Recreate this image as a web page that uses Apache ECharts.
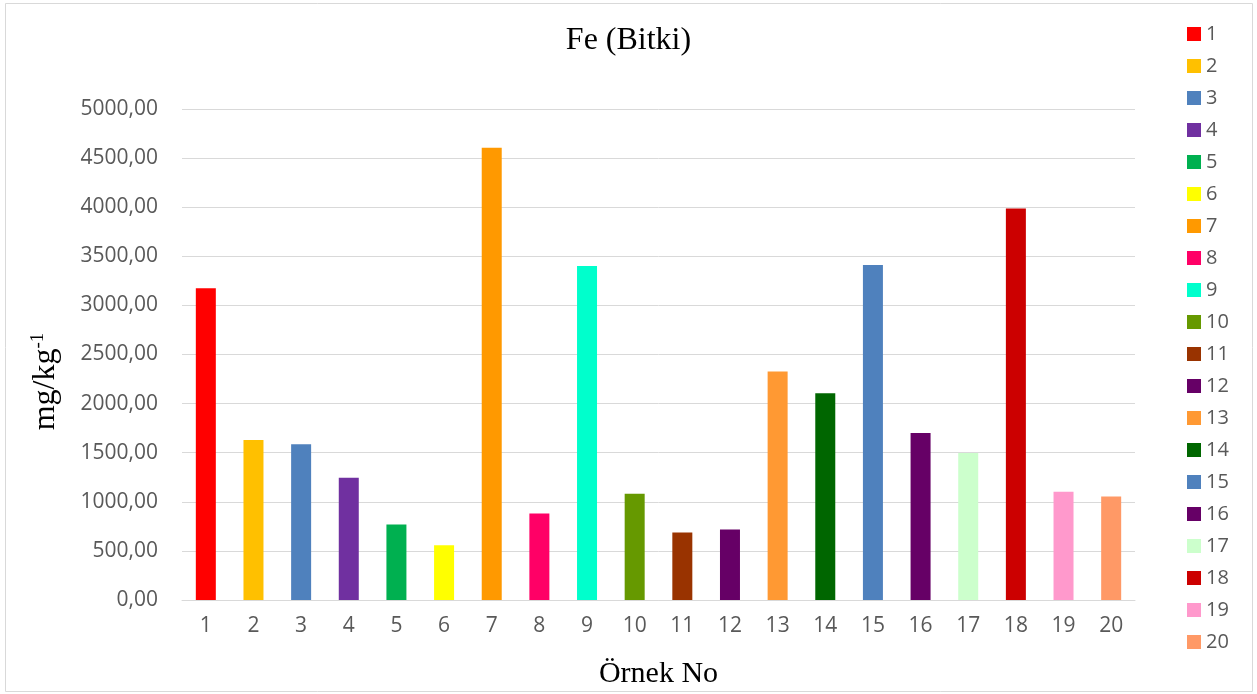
<!DOCTYPE html>
<html>
<head>
<meta charset="utf-8">
<script src="https://cdn.jsdelivr.net/npm/echarts@6/dist/echarts.min.js"></script>
<style>
html,body{margin:0;padding:0;background:#fff;}
#chart{width:1257px;height:694px;}
</style>
</head>
<body>
<div id="chart"></div>
<script>
const categories = ['1','2','3','4','5','6','7','8','9','10','11','12','13','14','15','16','17','18','19','20'];
const values = [3175, 1630, 1586, 1245, 769, 557, 4605, 880, 3401, 1083, 688, 719, 2328, 2105, 3411, 1700, 1498, 3988, 1103, 1053];
const colors = ['#FF0000','#FFC000','#4F81BD','#7030A0','#00B050','#FFFF00','#FF9900','#FF0066','#00FFCC','#669900','#993300','#660066','#FF9933','#006600','#4F81BD','#660066','#CCFFCC','#CC0000','#FF99CC','#FF9966'];
const yTicks = { min: 0, max: 5000, interval: 500 };

const series = categories.map((c, i) => ({
  name: c,
  type: 'bar',
  stack: 'total',
  barWidth: 20,
  itemStyle: { color: colors[i] },
  data: categories.map((_, j) => j === i ? values[i] : null)
}));

const chart = echarts.init(document.getElementById('chart'));
chart.setOption({
  animation: false,
  backgroundColor: '#fff',
  title: {
    text: 'Fe (Bitki)',
    left: 'center',
    top: 20,
    textStyle: { fontFamily: '"Liberation Serif", serif', fontSize: 32, fontWeight: 'normal', color: '#000' }
  },
  graphic: [{
    type: 'rect',
    shape: { x: 5.5, y: 3.5, width: 1247, height: 688 },
    style: { fill: 'none', stroke: '#d9d9d9', lineWidth: 1 },
    silent: true
  }],
  legend: {
    orient: 'vertical',
    left: 1182,
    top: 19,
    height: 665,
    itemWidth: 14,
    itemHeight: 14,
    itemGap: 12,
    itemTextGap: 6,
    icon: 'rect',
    data: categories,
    textStyle: { fontFamily: '"Open Sans", sans-serif', fontSize: 20, color: '#595959', lineHeight: 20 }
  },
  grid: { left: 182, right: 122, top: 109, bottom: 91 },
  xAxis: {
    type: 'category',
    data: categories,
    name: 'Örnek No',
    nameLocation: 'middle',
    nameGap: 59,
    nameTextStyle: { fontFamily: '"Liberation Serif", serif', fontSize: 30, color: '#000' },
    axisLine: { lineStyle: { color: '#d9d9d9', width: 1 } },
    axisTick: { show: false },
    axisLabel: { fontFamily: '"Open Sans", sans-serif', fontSize: 21, color: '#595959', margin: 16 }
  },
  yAxis: {
    type: 'value',
    min: yTicks.min,
    max: yTicks.max,
    interval: yTicks.interval,
    name: '{a|mg/kg}{b|-1}',
    nameLocation: 'middle',
    nameRotate: 90,
    nameGap: 120,
    nameTextStyle: {
      padding: [0, 54, 0, 0],
      rich: {
        a: { fontFamily: '"Liberation Serif", serif', fontSize: 32, color: '#000' },
        b: { fontFamily: '"Liberation Serif", serif', fontSize: 19, color: '#000', padding: [0, 0, 14, 0] }
      }
    },
    axisLine: { show: false },
    axisTick: { show: false },
    splitLine: { lineStyle: { color: '#d9d9d9', width: 1 } },
    axisLabel: {
      fontFamily: '"Open Sans", sans-serif', fontSize: 21, color: '#595959', margin: 24,
      formatter: v => v.toFixed(2).replace('.', ',')
    }
  },
  series: series
});
</script>
</body>
</html>
